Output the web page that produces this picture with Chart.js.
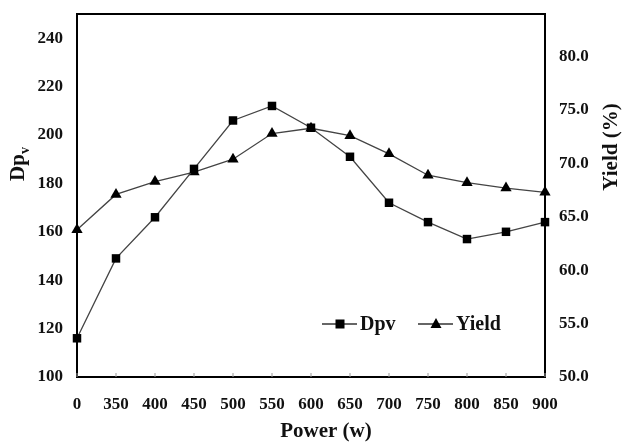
<!DOCTYPE html>
<html>
<head>
<meta charset="utf-8">
<script src="https://cdn.jsdelivr.net/npm/chart.js@4.4.1/dist/chart.umd.min.js"></script>
<style>
  html, body { margin: 0; padding: 0; background: #fff; }
  #wrap { width: 625px; height: 445px; }
</style>
</head>
<body>
<div id="wrap"><canvas id="Chart"></canvas></div>
<script>
// categories and series
const powerLabels = ['0', '350', '400', '450', '500', '550', '600', '650', '700', '750', '800', '850', '900'];
const dpvValues = [116, 149, 166, 186, 206, 212, 203, 191, 172, 164, 157, 160, 164];
const yieldValues = [63.8, 67.1, 68.3, 69.2, 70.4, 72.8, 73.3, 72.6, 70.9, 68.9, 68.2, 67.7, 67.3];
const leftTicks = [100, 120, 140, 160, 180, 200, 220, 240];
const rightTicks = [50, 55, 60, 65, 70, 75, 80];

const FONT = '"Liberation Serif", "Times New Roman", serif';

// frame, axis titles and the inside legend
const decor = {
    id: 'decor',
    afterDraw(chart) {
        const ctx = chart.ctx;
        const a = chart.chartArea;
        ctx.save();
        ctx.strokeStyle = '#000';
        ctx.lineWidth = 2;
        ctx.strokeRect(a.left, a.top, a.right - a.left, a.bottom - a.top);

        // small tick marks inside the bottom axis
        const xs = chart.scales.x;
        ctx.strokeStyle = '#999';
        ctx.lineWidth = 1;
        powerLabels.forEach((l, i) => {
            const px = xs.getPixelForValue(i);
            ctx.beginPath();
            ctx.moveTo(px, a.bottom);
            ctx.lineTo(px, a.bottom - 4);
            ctx.stroke();
        });

        ctx.fillStyle = '#111';
        ctx.textBaseline = 'middle';
        ctx.textAlign = 'center';
        ctx.font = 'bold 21px ' + FONT;
        ctx.fillText('Power (w)', 326, 432);

        // left title Dp with subscript v
        ctx.save();
        ctx.translate(19, 164);
        ctx.rotate(-Math.PI / 2);
        ctx.textAlign = 'left';
        ctx.font = 'bold 14px ' + FONT;
        const sw = ctx.measureText('v').width;
        ctx.font = 'bold 21px ' + FONT;
        const w = ctx.measureText('Dp').width;
        ctx.fillText('Dp', -(w + sw) / 2, 0);
        ctx.font = 'bold 14px ' + FONT;
        ctx.fillText('v', -(w + sw) / 2 + w, 6);
        ctx.restore();

        // right title reads bottom to top
        ctx.save();
        ctx.translate(612, 147);
        ctx.rotate(-Math.PI / 2);
        ctx.font = 'bold 21px ' + FONT;
        ctx.fillText('Yield (%)', 0, 0);
        ctx.restore();

        // legend
        const ly = 324;
        const items = [
            { x: 322, text: 'Dpv', shape: 'rect' },
            { x: 418, text: 'Yield', shape: 'triangle' }
        ];
        ctx.font = 'bold 20px ' + FONT;
        ctx.textAlign = 'left';
        items.forEach(it => {
            ctx.strokeStyle = '#333';
            ctx.lineWidth = 1.3;
            ctx.beginPath();
            ctx.moveTo(it.x, ly);
            ctx.lineTo(it.x + 35, ly);
            ctx.stroke();
            ctx.fillStyle = '#000';
            const cx = it.x + 18;
            if (it.shape === 'rect') {
                ctx.fillRect(cx - 4.5, ly - 4.5, 9, 9);
            } else {
                ctx.beginPath();
                ctx.moveTo(cx, ly - 6);
                ctx.lineTo(cx + 5.5, ly + 4);
                ctx.lineTo(cx - 5.5, ly + 4);
                ctx.closePath();
                ctx.fill();
            }
            ctx.fillStyle = '#111';
            ctx.fillText(it.text, it.x + 38, ly + 1);
        });
        ctx.restore();
    }
};

const tickFont = { family: FONT, size: 17, weight: 'bold' };

function noPad(s) {
    s.paddingTop = 0;
    s.paddingBottom = 0;
}

new Chart(document.getElementById('Chart'), {
    type: 'line',
    data: {
        labels: powerLabels,
        datasets: [{
            label: 'Dpv',
            data: dpvValues,
            yAxisID: 'y',
            borderColor: '#444',
            borderWidth: 1.3,
            pointStyle: 'rect',
            pointRadius: 6,
            pointBackgroundColor: '#000',
            pointBorderColor: '#000',
            pointBorderWidth: 0,
            tension: 0
        }, {
            label: 'Yield',
            data: yieldValues,
            yAxisID: 'y1',
            borderColor: '#444',
            borderWidth: 1.3,
            pointStyle: 'triangle',
            pointRadius: 6.5,
            pointBackgroundColor: '#000',
            pointBorderColor: '#000',
            pointBorderWidth: 0,
            tension: 0
        }]
    },
    options: {
        responsive: true,
        maintainAspectRatio: false,
        animation: false,
        layout: { padding: { top: 14, left: 0, right: 0, bottom: 0 } },
        plugins: { legend: { display: false }, tooltip: { enabled: false } },
        scales: {
            x: {
                offset: false,
                grid: { display: false, drawTicks: false },
                border: { display: false },
                ticks: { color: '#111', font: tickFont, padding: 17, maxRotation: 0, autoSkip: false },
                afterFit(s) { s.height = 68; s.paddingLeft = 0; s.paddingRight = 0; }
            },
            y: {
                position: 'left',
                min: 100,
                max: 250,
                grid: { display: false, drawTicks: true, tickLength: 4, color: '#aaa' },
                border: { display: false },
                ticks: { color: '#111', font: tickFont, padding: 10, stepSize: 20 },
                afterBuildTicks(s) { s.ticks = leftTicks.map(v => ({ value: v })); },
                afterFit(s) { s.width = 77; noPad(s); }
            },
            y1: {
                position: 'right',
                min: 50,
                max: 84,
                grid: { display: false, drawTicks: true, tickLength: 4, color: '#aaa' },
                border: { display: false },
                ticks: { color: '#111', font: tickFont, padding: 10, stepSize: 5, callback: v => v.toFixed(1) },
                afterBuildTicks(s) { s.ticks = rightTicks.map(v => ({ value: v })); },
                afterFit(s) { s.width = 80; noPad(s); }
            }
        }
    },
    plugins: [decor]
});
</script>
</body>
</html>
